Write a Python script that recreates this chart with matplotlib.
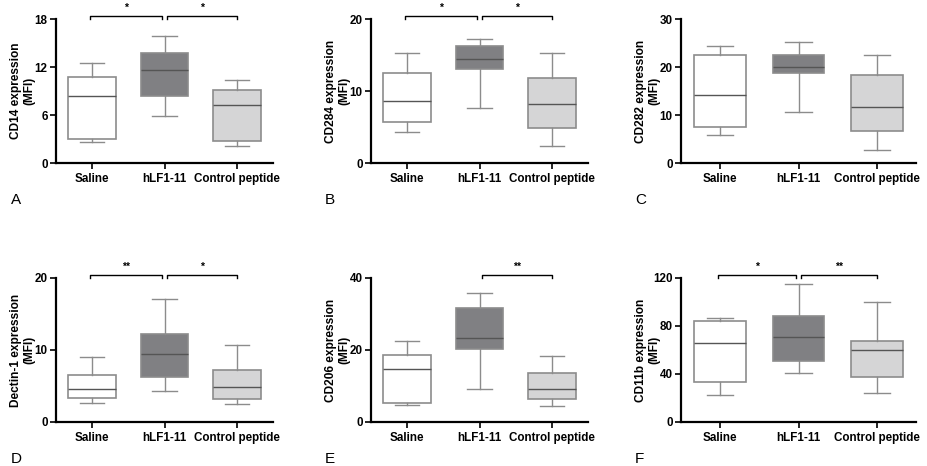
import matplotlib
matplotlib.use("Agg")
import matplotlib.pyplot as plt

plt.rcParams["font.family"] = ["Liberation Sans", "DejaVu Sans"]

groups = ["Saline", "hLF1-11", "Control peptide"]

# five-number summaries per group: whisker low, q1, median, q3, whisker high
cd14 = [[2.6, 2.96, 8.33, 10.8, 12.46], [5.83, 8.33, 11.6, 13.75, 15.9], [2.1, 2.75, 7.2, 9.08, 10.33]]
cd284 = [[4.26, 5.65, 8.6, 12.45, 15.23], [7.6, 13.0, 14.4, 16.25, 17.2], [2.3, 4.8, 8.15, 11.85, 15.3]]
cd282 = [[5.76, 7.43, 14.1, 22.6, 24.4], [10.55, 18.75, 19.9, 22.6, 25.3], [2.7, 6.6, 11.6, 18.3, 22.4]]
dectin = [[2.7, 3.36, 4.52, 6.53, 9.04], [4.24, 6.29, 9.46, 12.26, 17.06], [2.47, 3.17, 4.85, 7.23, 10.72]]
cd206 = [[4.76, 5.22, 14.83, 18.66, 22.6], [9.14, 20.4, 23.4, 31.6, 35.7], [4.38, 6.34, 9.14, 13.6, 18.4]]
cd11b = [[22.4, 33.6, 66.0, 84.5, 86.4], [40.8, 50.9, 71.0, 88.7, 114.7], [23.8, 37.8, 60.1, 67.7, 100.4]]

ylabels = ["CD14 expression\n(MFI)", "CD284 expression\n(MFI)", "CD282 expression\n(MFI)",
           "Dectin-1 expression\n(MFI)", "CD206 expression\n(MFI)", "CD11b expression\n(MFI)"]
yticks = [[0, 6, 12, 18], [0, 10, 20], [0, 10, 20, 30], [0, 10, 20], [0, 20, 40], [0, 40, 80, 120]]
letters = ["A", "B", "C", "D", "E", "F"]
sigs = [[(0, 1, "*"), (1, 2, "*")], [(0, 1, "*"), (1, 2, "*")], [],
        [(0, 1, "**"), (1, 2, "*")], [(1, 2, "**")], [(0, 1, "*"), (1, 2, "**")]]
panels = [cd14, cd284, cd282, dectin, cd206, cd11b]

fills = ["white", "#808083", "#d5d5d6"]
edge = "#8c8c8c"

W, H = 927, 466
fig = plt.figure(figsize=(W / 100, H / 100), dpi=100)

# pixel boxes (left, right, top, bottom)
boxes = [(56, 273, 19, 163), (371, 588, 19, 163), (681, 916, 19, 163),
         (56, 273, 278, 422), (371, 588, 278, 422), (681, 916, 278, 422)]

for k, data in enumerate(panels):
    l, r, t, b = boxes[k]
    ax = fig.add_axes([l / W, 1 - b / H, (r - l) / W, (b - t) / H])
    stats = [dict(whislo=d[0], q1=d[1], med=d[2], q3=d[3], whishi=d[4], label=g)
             for d, g in zip(data, groups)]
    bp = ax.bxp(stats, positions=[0, 1, 2], widths=0.66, showfliers=False,
                patch_artist=True,
                boxprops=dict(edgecolor=edge, linewidth=1.2),
                whiskerprops=dict(color=edge, linewidth=1.0),
                capprops=dict(color=edge, linewidth=1.0),
                medianprops=dict(color="#555555", linewidth=1.0))
    for patch, c in zip(bp["boxes"], fills):
        patch.set_facecolor(c)
    for i, cap in enumerate(bp["caps"]):
        cap.set_xdata([i // 2 - 0.17, i // 2 + 0.17])
    ymax = yticks[k][-1]
    ax.set_xlim(-0.5, 2.5)
    ax.set_ylim(0, ymax)
    ax.set_yticks(yticks[k])
    ax.set_xticks([0, 1, 2])
    ax.set_xticklabels(groups)
    for s in ["top", "right"]:
        ax.spines[s].set_visible(False)
    for s in ["left", "bottom"]:
        ax.spines[s].set_linewidth(1.6)
    ax.tick_params(axis="both", width=1.2, length=4, labelsize=8.4, pad=2)
    ax.tick_params(axis="x", pad=3)
    for lab in ax.get_xticklabels() + ax.get_yticklabels():
        lab.set_fontweight("bold")
    ax.set_ylabel(ylabels[k], fontsize=8.6, fontweight="bold", linespacing=1.15)
    ax.yaxis.set_label_coords(-21 / (r - l), 0.5)

    by = ymax * 1.02
    dy = ymax * 0.022
    for i, j, txt in sigs[k]:
        x0 = i - 0.03 if i == 0 else i + 0.03
        x1 = j - 0.03 if j == 1 else j
        ax.plot([x0, x0, x1, x1], [by - dy, by, by, by - dy], color="black",
                linewidth=1.0, clip_on=False)
        ax.text((x0 + x1) / 2, by + ymax * 0.025, txt, ha="center", va="bottom",
                fontsize=7.5, fontweight="bold")

    lx = 11 if k % 3 == 0 else l - 46
    fig.text(lx / W, 1 - (b + 37) / H, letters[k], fontsize=11, ha="left", va="center")

fig.savefig("out.png", dpi=100)
